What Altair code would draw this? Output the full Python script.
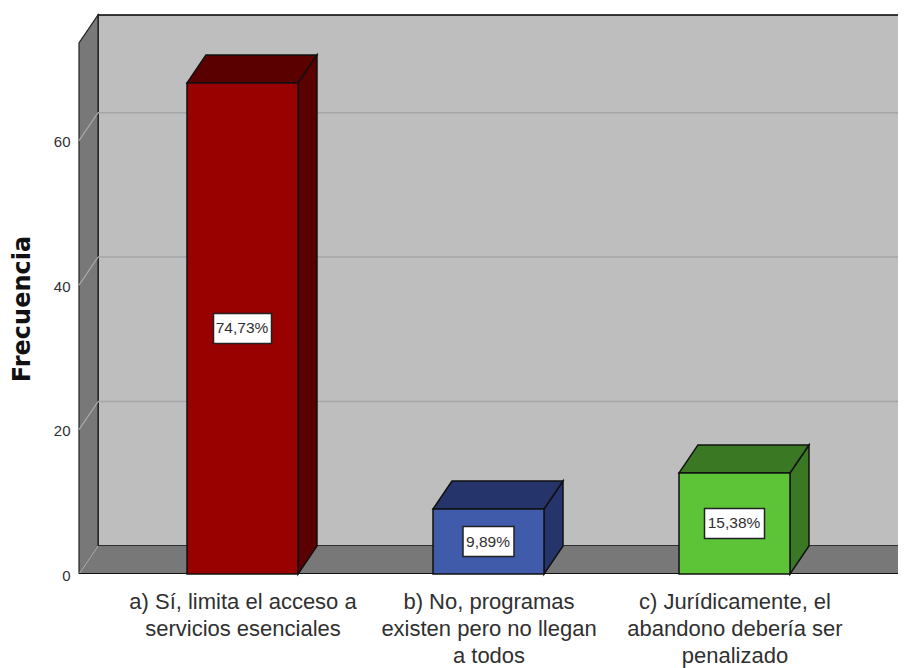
import json
import altair as alt
import pandas as pd

# ---- values
categories = [
    ["a) Sí, limita el acceso a", "servicios esenciales"],
    ["b) No, programas", "existen pero no llegan", "a todos"],
    ["c) Jurídicamente, el", "abandono debería ser", "penalizado"],
]
frequencies = [68, 9, 14]
percent_labels = ["74,73%", "9,89%", "15,38%"]
tick_values = [0, 20, 40, 60]

# ---- styles
front_colors = ["#990000", "#3f5ba9", "#5dc438"]
shade_colors = ["#5a0000", "#26346c", "#3b7823"]
WALL = "#bebebe"
SIDE_WALL = "#787878"
GRID = "#a6a6a6"
TEXT = "#303030"
SANS = "Liberation Sans"

# ---- geometry: scale factors that turn pixels into data units
PX_X = 246.0     # pixels between two bar positions
PX_Y = 7.222     # pixels per unit of frequency
PLOT_W, PLOT_H = 823, 563
X_MIN = 1 - (242.5 - 75) / PX_X
X_MAX = X_MIN + PLOT_W / PX_X
Y_MAX = PLOT_H / PX_Y
DX = 19 / PX_X   # 3-D depth
DY = 28 / PX_Y
HALF = 55.5 / PX_X
WALL_L = 1 - (242.5 - 79) / PX_X          # front left corner of the box
FLOOR_R = 1 + (900 - 242.5) / PX_X        # front right corner of the box
WALL_T = 559 / PX_Y                        # top of the back wall
BOX_W = [58 / PX_X, 51 / PX_X, 60 / PX_X]
BOX_H = 30 / PX_Y

x_scale = alt.Scale(domain=[X_MIN, X_MAX], nice=False, zero=False)
y_scale = alt.Scale(domain=[0, Y_MAX], nice=False, zero=False)

label_expr = json.dumps(categories, ensure_ascii=False) + "[datum.value - 1]"
x_axis = alt.Axis(
    values=[1, 2, 3], labelExpr=label_expr, ticks=False, domain=False, grid=False,
    labelFont=SANS, labelFontSize=22, labelColor=TEXT, labelLineHeight=27,
    labelPadding=17, labelOverlap=False, labelBound=False, labelFlush=False,
    labelLimit=500, title=None,
)
y_axis = alt.Axis(
    values=tick_values, ticks=False, domain=False, grid=False,
    labelFont=SANS, labelFontSize=15, labelColor=TEXT, labelPadding=5, labelOffset=1,
    title="Frecuencia", titleFont="DejaVu Sans", titleFontWeight="bold",
    titleFontSize=24, titleColor="#111111", titleBaseline="alphabetic",
    titleX=-46, titleY=297.5, titleAlign="center",
)


def X(field="x"):
    return alt.X(f"{field}:Q", scale=x_scale, axis=x_axis)


def Y(field="y"):
    return alt.Y(f"{field}:Q", scale=y_scale, axis=y_axis)


# ---- walls and floor
back = (
    alt.Chart(pd.DataFrame([{"x": WALL_L + DX, "x2": FLOOR_R + DX, "y": DY, "y2": WALL_T}]))
    .mark_rect(fill=WALL, stroke="black", strokeWidth=1.5, clip=True)
    .encode(x=X(), x2="x2:Q", y=Y(), y2="y2:Q")
)

left = (
    alt.Chart(pd.DataFrame([
        {"x": WALL_L, "y": 0, "y2": WALL_T - DY},
        {"x": WALL_L + DX, "y": DY, "y2": WALL_T},
    ]))
    .mark_area(orient="vertical", fill=SIDE_WALL, stroke="#222222", strokeWidth=1.2, clip=True)
    .encode(x=X(), y=Y(), y2="y2:Q")
)

floor = (
    alt.Chart(pd.DataFrame([
        {"y": 0, "x": WALL_L, "x2": FLOOR_R},
        {"y": DY, "x": WALL_L + DX, "x2": FLOOR_R + DX},
    ]))
    .mark_area(orient="horizontal", fill=SIDE_WALL, clip=True)
    .encode(y=Y(), x=X(), x2="x2:Q")
)

front_edge = (
    alt.Chart(pd.DataFrame([{"x": WALL_L, "x2": FLOOR_R, "y": 0}]))
    .mark_rule(color="#111111", strokeWidth=2, clip=True)
    .encode(x=X(), x2="x2:Q", y=Y())
)

# ---- gridlines
grid_back = (
    alt.Chart(pd.DataFrame([{"x": WALL_L + DX, "x2": FLOOR_R + DX, "y": v + DY} for v in tick_values[1:]]))
    .mark_rule(color=GRID, strokeWidth=1.5, clip=True)
    .encode(x=X(), x2="x2:Q", y=Y())
)
grid_side = (
    alt.Chart(pd.DataFrame(
        [{"t": v, "x": WALL_L, "y": v} for v in tick_values]
        + [{"t": v, "x": WALL_L + DX, "y": v + DY} for v in tick_values]
    ))
    .mark_line(color="#a9a9a9", strokeWidth=1.2)
    .encode(x=X(), y=Y(), detail="t:N")
)

# ---- bars
rows_front, rows_side, rows_top, rows_box = [], [], [], []
for i, (v, fc, sc, lab, bw) in enumerate(zip(frequencies, front_colors, shade_colors, percent_labels, BOX_W)):
    c = i + 1
    rows_front.append({"x": c - HALF, "x2": c + HALF, "y": 0, "y2": v, "fill": fc})
    rows_side += [
        {"b": i, "x": c + HALF, "y": v, "y2": 0, "fill": sc},
        {"b": i, "x": c + HALF + DX, "y": v + DY, "y2": DY, "fill": sc},
    ]
    rows_top += [
        {"b": i, "y": v, "x": c - HALF, "x2": c + HALF, "fill": sc},
        {"b": i, "y": v + DY, "x": c - HALF + DX, "x2": c + HALF + DX, "fill": sc},
    ]
    rows_box.append({"x": c - bw / 2, "x2": c + bw / 2, "y": v / 2 - BOX_H / 2,
                     "y2": v / 2 + BOX_H / 2, "xc": c - 0.5 / PX_X, "yc": v / 2, "label": lab})

side_faces = (
    alt.Chart(pd.DataFrame(rows_side))
    .mark_area(orient="vertical", stroke="#111111", strokeWidth=1.5)
    .encode(x=X(), y=Y(), y2="y2:Q", detail="b:N", fill=alt.Fill("fill:N", scale=None))
)
top_faces = (
    alt.Chart(pd.DataFrame(rows_top))
    .mark_area(orient="horizontal", stroke="#111111", strokeWidth=1.5)
    .encode(y=Y(), x=X(), x2="x2:Q", detail="b:N", fill=alt.Fill("fill:N", scale=None))
)
front_faces = (
    alt.Chart(pd.DataFrame(rows_front))
    .mark_rect(stroke="#111111", strokeWidth=1.5)
    .encode(x=X(), x2="x2:Q", y=Y(), y2="y2:Q", fill=alt.Fill("fill:N", scale=None))
)
boxes = (
    alt.Chart(pd.DataFrame(rows_box))
    .mark_rect(fill="white", stroke="#222222", strokeWidth=1.5)
    .encode(x=X(), x2="x2:Q", y=Y(), y2="y2:Q")
)
texts = (
    alt.Chart(pd.DataFrame(rows_box))
    .mark_text(font=SANS, fontSize=15.5, color=TEXT, align="center", baseline="middle")
    .encode(x=X("xc"), y=Y("yc"), text="label:N")
)

chart = (
    alt.layer(back, left, floor, grid_back, grid_side, front_edge,
              side_faces, top_faces, front_faces, boxes, texts)
    .properties(
        width=PLOT_W, height=PLOT_H, autosize=alt.AutoSizeParams(type="none"),
        padding={"left": 67, "top": 3, "right": 0, "bottom": 94},
        background="white",
    )
    .configure_view(stroke=None)
)

chart.save("out.html", embed_options={"renderer": "svg", "actions": False})
